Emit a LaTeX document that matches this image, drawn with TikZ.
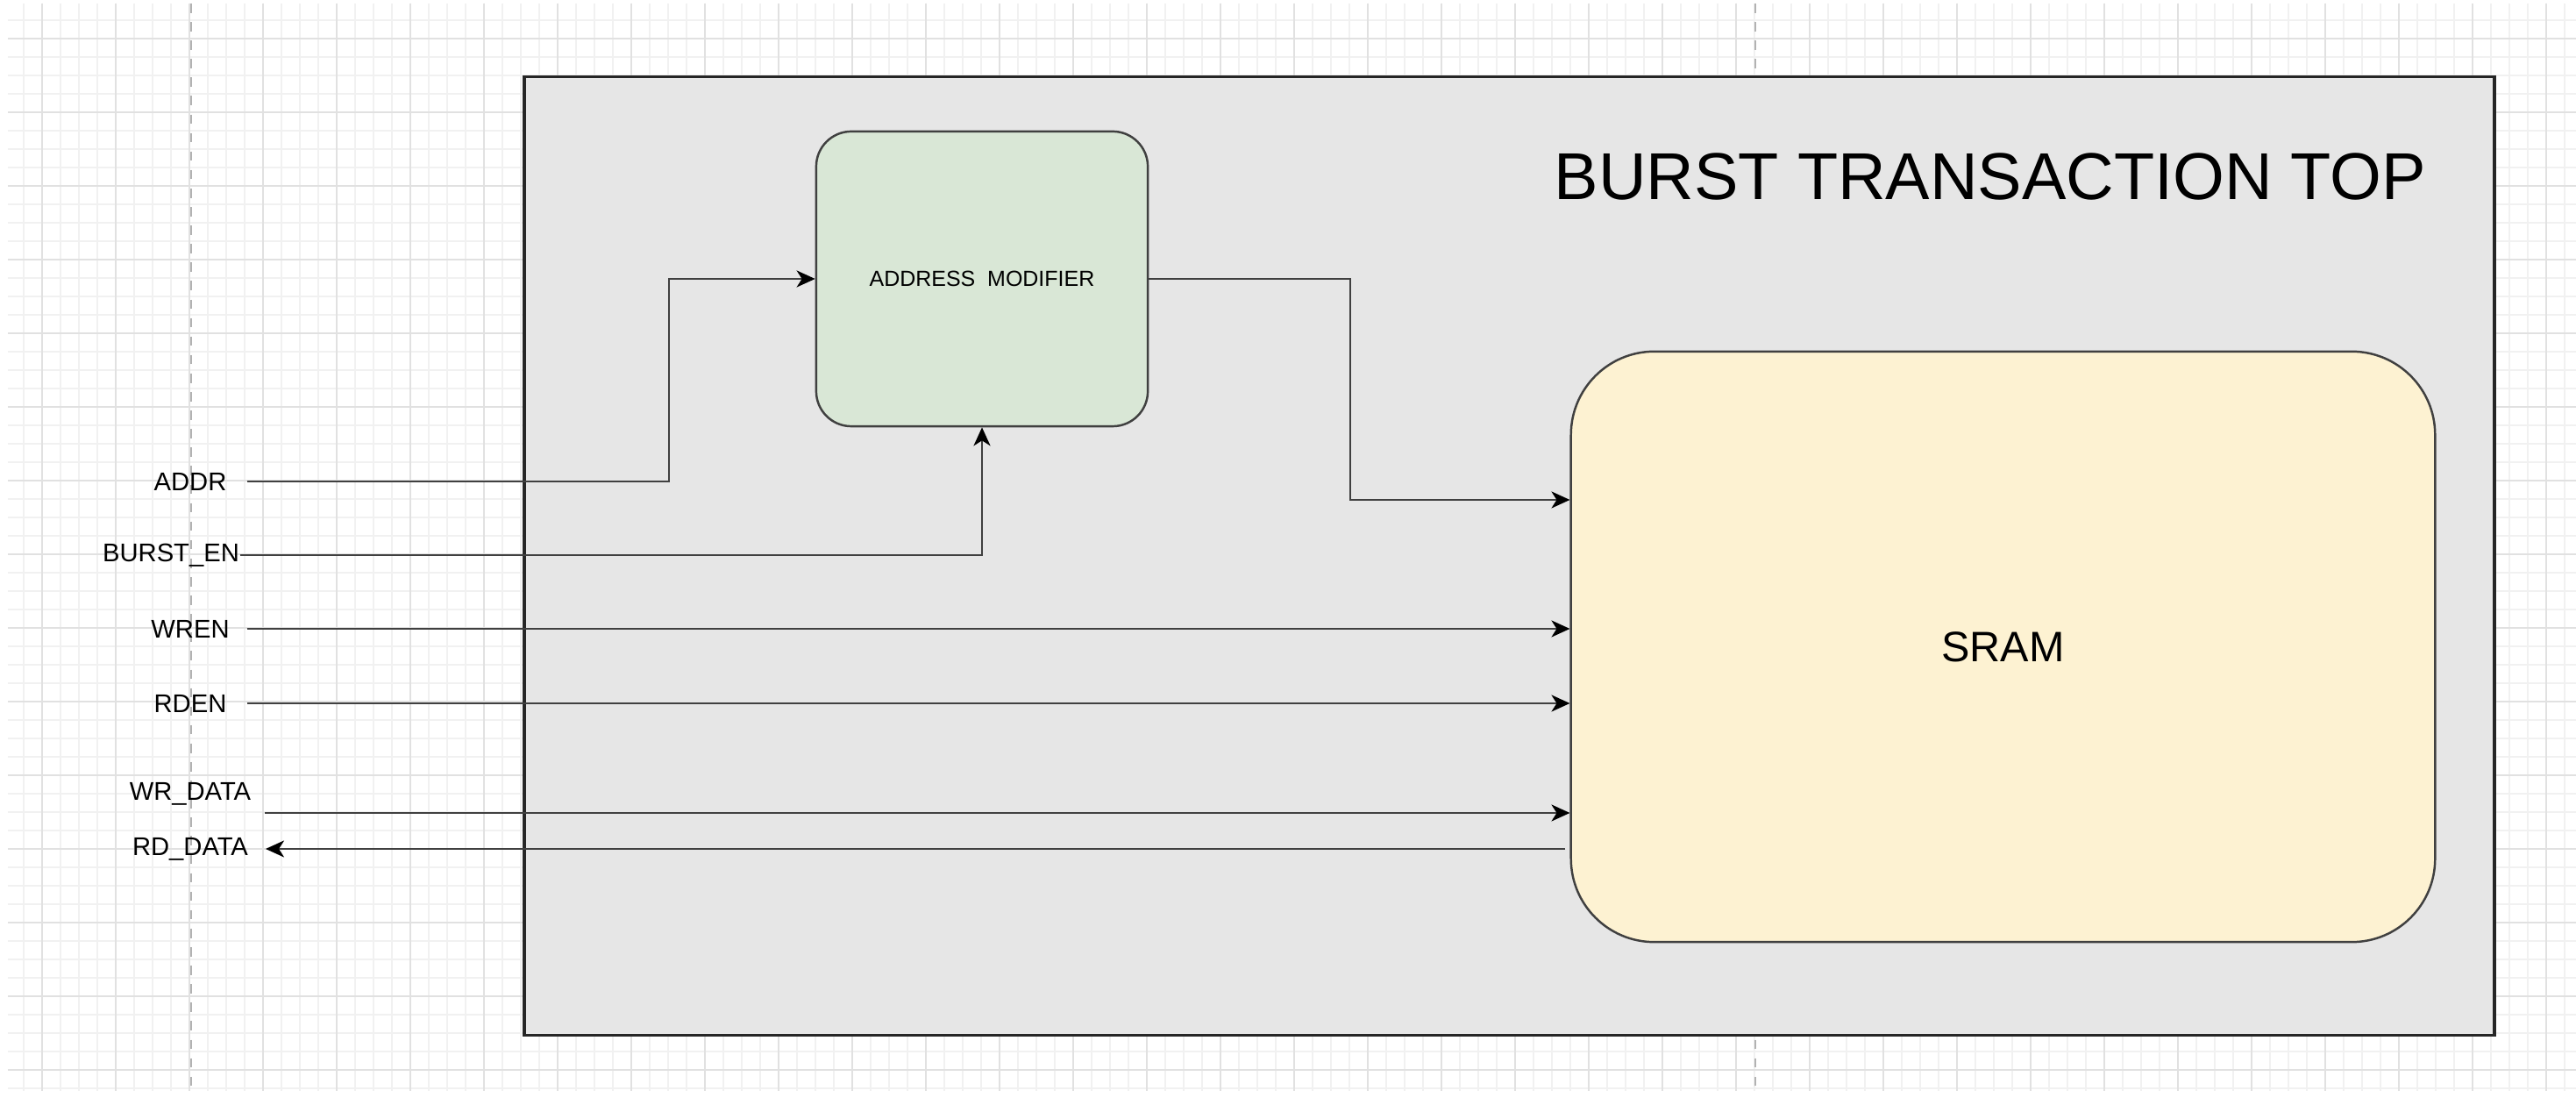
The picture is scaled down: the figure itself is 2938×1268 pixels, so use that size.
\documentclass[tikz,border=0pt]{standalone}
\usepackage{fontspec}
\setmainfont{Liberation Sans}
\usetikzlibrary{arrows.meta,positioning}
\definecolor{gridminor}{HTML}{F1F1F1}
\definecolor{gridmajor}{HTML}{E1E1E1}
\definecolor{topfill}{HTML}{E6E6E6}
\definecolor{modfill}{HTML}{D9E7D6}
\definecolor{sramfill}{HTML}{FDF2D2}
\tikzset{
  sig/.style={draw=black!75, line width=0.75pt, -{Stealth[length=2.1mm,width=1.9mm,inset=0.6mm,color=black]}},
  pin/.style={minimum width=1.28cm, inner sep=0pt, font=\fontsize{8.3}{10}\selectfont},
  block/.style={draw=black!75, line width=0.7pt, inner sep=0pt},
}

\begin{document}
\begin{tikzpicture}[x=0.01cm, y=-0.01cm]
      \useasboundingbox[fill=white] (0,0) rectangle (2938,1268);

      % background grid
      \foreach \x in {27,48,...,2938}
        \draw[gridminor, line width=0.3pt] (\x,4) -- (\x,1244);
      \foreach \y in {23,44,...,1244}
        \draw[gridminor, line width=0.3pt] (9,\y) -- (2938,\y);
      \foreach \x in {48,132,...,2938}
        \draw[gridmajor, line width=0.5pt] (\x,4) -- (\x,1244);
      \foreach \y in {44,128,...,1244}
        \draw[gridmajor, line width=0.5pt] (9,\y) -- (2938,\y);
      \draw[black!30, dashed, line width=0.6pt] (218,4) -- (218,1244);
      \draw[black!30, dashed, line width=0.6pt] (2002,4) -- (2002,1244);

      % blocks
      \node[draw=black!85, line width=1pt, fill=topfill, inner sep=0pt,
            minimum width=22.46cm, minimum height=10.92cm, anchor=north west] (top) at (596,86) {};
      \node[font=\fontsize{21.5}{26}\selectfont] (title) at (2270,201) {BURST TRANSACTION TOP};

      \node[block, fill=modfill, rounded corners=0.4cm, minimum width=3.78cm, minimum height=3.36cm,
            font=\fontsize{7.1}{9}\selectfont] (am) at (1120,318) {ADDRESS\ \ MODIFIER};
      \node[block, fill=sramfill, rounded corners=0.95cm, minimum width=9.85cm, minimum height=6.73cm,
            font=\fontsize{13.8}{16}\selectfont] (sram) at (2284.5,737.5) {SRAM};

      % ports
      \node[pin] (addr) at (217,549) {ADDR};
      \node[pin] (burst) at (195,633) {BURST\_EN};
      \node[pin] (wren) at (217,717) {WREN};
      \node[pin] (rden) at (217,802) {RDEN};
      \node[pin] (wrdata) at (217,905) {WR\_DATA};
      \node[pin] (rddata) at (217,968) {RD\_DATA};

      \coordinate (addrbend) at (763,318);
      \coordinate (modbend) at (1540,570);
      \coordinate (wrstart) at (302,927);
      \coordinate (rdend) at (303,968);

      % signals
      \draw[sig] (addr.east) -| (addrbend) -- (am.west);
      \draw[sig] (burst.east) -| (am.south);
      \draw[sig] (am.east) -| (modbend) -- (modbend -| sram.west);
      \draw[sig] (wren.east) -- (wren.east -| sram.west);
      \draw[sig] (rden.east) -- (rden.east -| sram.west);
      \draw[sig] (wrstart) -- (wrstart -| sram.west);
      \draw[sig, shorten <=0.05cm] (rdend -| sram.west) -- (rdend);
\end{tikzpicture}
\end{document}
